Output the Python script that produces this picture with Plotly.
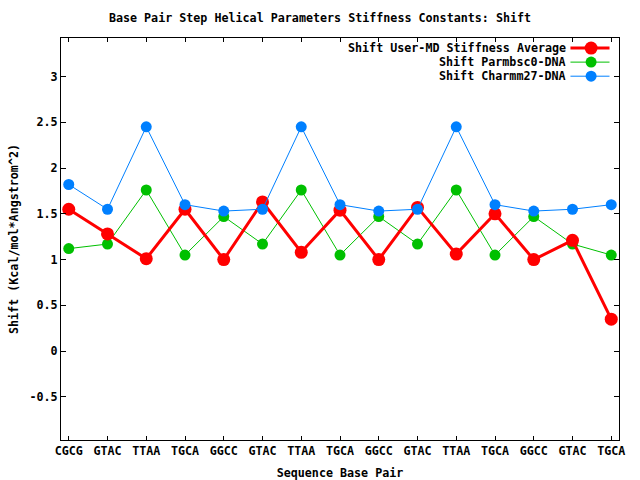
import plotly.graph_objects as go

categories = ["CGCG", "GTAC", "TTAA", "TGCA", "GGCC", "GTAC", "TTAA", "TGCA",
              "GGCC", "GTAC", "TTAA", "TGCA", "GGCC", "GTAC", "TGCA"]
user_md = [1.55, 1.28, 1.01, 1.55, 1.00, 1.63, 1.08, 1.54, 1.00, 1.57, 1.06, 1.50, 1.00, 1.21, 0.35]
parmbsc0 = [1.12, 1.17, 1.76, 1.05, 1.47, 1.17, 1.76, 1.05, 1.47, 1.17, 1.76, 1.05, 1.47, 1.17, 1.05]
charmm27 = [1.82, 1.55, 2.45, 1.60, 1.53, 1.55, 2.45, 1.60, 1.53, 1.55, 2.45, 1.60, 1.53, 1.55, 1.60]
series_names = ["Shift User-MD Stiffness Average", "Shift Parmbsc0-DNA", "Shift Charmm27-DNA"]
y_ticks = [-0.5, 0, 0.5, 1, 1.5, 2, 2.5, 3]

FONT = "DejaVu Sans Mono"
FS = 11.7
xs = list(range(len(categories)))

colors = ["#ff0000", "#00c000", "#0080ff"]
widths = [3, 1, 1]
msizes = [13, 11, 11]

fig = go.Figure()
for data, name, c, w, ms in [(parmbsc0, series_names[1], colors[1], widths[1], msizes[1]),
                             (user_md, series_names[0], colors[0], widths[0], msizes[0]),
                             (charmm27, series_names[2], colors[2], widths[2], msizes[2])]:
    fig.add_trace(go.Scatter(x=xs, y=data, mode="lines+markers", name=name,
                             line=dict(color=c, width=w),
                             marker=dict(color=c, size=ms, symbol="circle"),
                             showlegend=False))

# manual legend (text right-aligned, sample to the right), like gnuplot
PW, PH = 558, 402
rows_y = [0.975, 0.940, 0.905]
for i, (name, c, w, ms) in enumerate(zip(series_names, colors, widths, msizes)):
    y = rows_y[i]
    fig.add_annotation(xref="paper", yref="paper", x=0.908, y=y, text=name,
                       showarrow=False, xanchor="right", yanchor="middle",
                       font=dict(family=FONT, size=FS, color="black", weight="bold"))
    fig.add_shape(type="line", xref="paper", yref="paper", x0=0.913, x1=0.983,
                  y0=y, y1=y, line=dict(color=c, width=w))
    r = ms / 2
    fig.add_shape(type="circle", xref="paper", yref="paper",
                  x0=0.950 - r / PW, x1=0.950 + r / PW,
                  y0=y - r / PH, y1=y + r / PH,
                  line=dict(color=c, width=0), fillcolor=c)

fig.update_layout(
    width=640, height=480,
    margin=dict(l=61, r=21, t=38, b=40, autoexpand=False),
    paper_bgcolor="white", plot_bgcolor="white",
    font=dict(family=FONT, size=FS, color="black", weight="bold"),
    title=dict(text="Base Pair Step Helical Parameters Stiffness Constants: Shift",
               x=0.5, xanchor="center", y=0.962, yanchor="middle",
               font=dict(family=FONT, size=FS, color="black", weight="bold")),
    xaxis=dict(range=[-0.2, 14.2], tickmode="array", tickvals=xs, ticktext=categories,
               automargin=False,
               showgrid=False, zeroline=False, showline=True, linecolor="black", linewidth=1,
               mirror="ticks", ticks="inside", ticklen=4, tickcolor="black",
               title=dict(text="Sequence Base Pair", standoff=11,
                          font=dict(family=FONT, size=FS, weight="bold"))),
    yaxis=dict(range=[-0.97, 3.42], tickmode="array", tickvals=y_ticks,
               ticktext=["%g" % v for v in y_ticks],
               automargin=False,
               showgrid=False, zeroline=False, showline=True, linecolor="black", linewidth=1,
               mirror="ticks", ticks="inside", ticklen=5, tickcolor="black",
               title=dict(text="Shift (Kcal/mol*Angstrom^2)", standoff=8,
                          font=dict(family=FONT, size=FS, weight="bold"))),
)

fig.write_html("out.html", config={"displayModeBar": False},
               post_script="document.body.style.margin='0';document.body.style.padding='0';")
